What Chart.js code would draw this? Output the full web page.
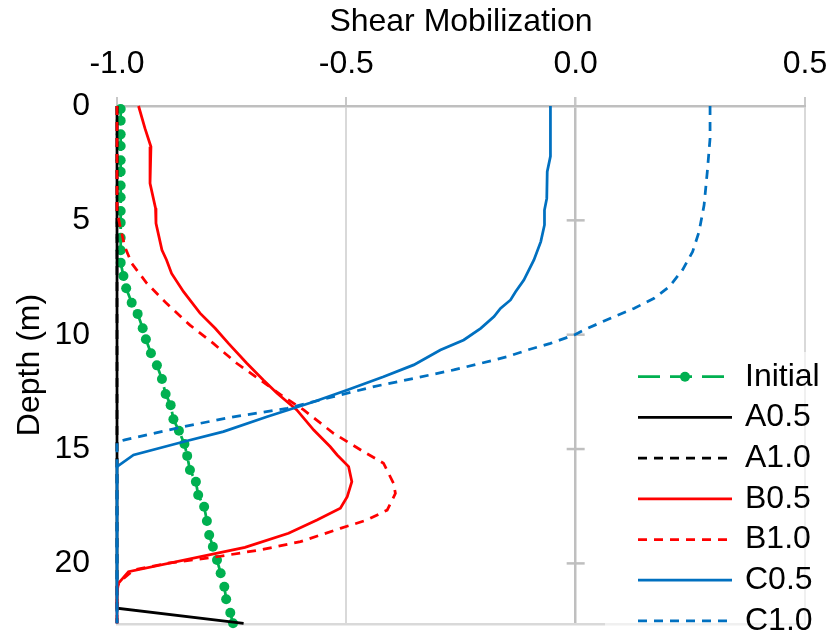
<!DOCTYPE html>
<html>
<head>
<meta charset="utf-8">
<script src="https://cdn.jsdelivr.net/npm/chart.js@4.4.1/dist/chart.umd.min.js"></script>
<style>
  html, body { margin: 0; padding: 0; background: #ffffff; }
  #wrap { width: 832px; height: 632px; }
</style>
</head>
<body>
<div id="wrap"><canvas id="chart" width="832" height="632"></canvas></div>
<script>
// Shear mobilization profiles with depth
const seriesLabels = ['Initial', 'A0.5', 'A1.0', 'B0.5', 'B1.0', 'C0.5', 'C1.0'];
const xTicks = [-1.0, -0.5, 0.0, 0.5];
const depthTicks = [0, 5, 10, 15, 20];

const initialDepth = [0.13, 0.64, 1.24, 1.75, 2.37, 2.87, 3.48, 3.99, 4.59, 5.10, 5.76, 6.31, 6.85,
  7.43, 7.97, 8.60, 9.09, 9.72, 10.20, 10.81, 11.34, 11.94, 12.59, 13.08, 13.70, 14.20, 14.78,
  15.30, 15.92, 16.43, 17.01, 17.52, 18.15, 18.76, 19.27, 19.85, 20.43, 21.02, 21.57, 22.16, 22.62];
const initialValue = [-0.992, -0.992, -0.992, -0.992, -0.992, -0.992, -0.992, -0.992, -0.992, -0.992, -0.992, -0.992, -0.992,
  -0.986, -0.980, -0.968, -0.955, -0.944, -0.937, -0.926, -0.913, -0.902, -0.894, -0.883, -0.877, -0.865, -0.853,
  -0.847, -0.841, -0.828, -0.823, -0.810, -0.804, -0.799, -0.791, -0.782, -0.774, -0.766, -0.762, -0.753, -0.747];

const a05Depth = [0, 21.96, 22.62];
const a05Value = [-1.0, -1.0, -0.724];

const a10Depth = [0, 22.62];
const a10Value = [-1.0, -1.0];

const b05Depth = [0, 0.98, 1.78, 3.38, 4.47, 5.13, 6.30, 6.73, 7.32, 8.12, 9.06, 9.72, 10.38, 11.25, 11.98,
  12.56, 13.29, 14.17, 14.90, 15.26, 15.77, 16.43, 17.08, 17.59, 18.10, 18.68, 19.30, 20.36, 20.87, 21.3, 22.62];
const b05Value = [-0.953, -0.939, -0.926, -0.928, -0.916, -0.915, -0.902, -0.892, -0.881, -0.855, -0.819, -0.786, -0.757, -0.717, -0.681,
  -0.651, -0.608, -0.571, -0.535, -0.520, -0.495, -0.488, -0.498, -0.513, -0.564, -0.626, -0.721, -0.975, -0.997, -1.0, -1.0];

const b10Depth = [0, 4.6, 5.28, 6.15, 6.88, 7.75, 8.63, 9.58, 10.38, 11.25, 11.98, 12.71, 13.29, 14.31, 15.12,
  15.62, 16.5, 16.94, 17.67, 18.10, 18.47, 19.05, 19.41, 19.71, 20.0, 20.29, 20.73, 21.0, 22.62];
const b10Value = [-1.0, -1.0, -0.993, -0.983, -0.968, -0.935, -0.892, -0.841, -0.790, -0.739, -0.688, -0.637, -0.593, -0.528, -0.462,
  -0.419, -0.397, -0.393, -0.411, -0.455, -0.513, -0.600, -0.688, -0.782, -0.892, -0.964, -0.990, -1.0, -1.0];

const c05Depth = [0, 2.2, 2.87, 4.04, 4.55, 5.2, 5.93, 6.73, 7.61, 8.12, 8.48, 8.85, 9.21, 9.72, 10.23,
  10.67, 11.32, 11.84, 12.42, 12.93, 13.59, 14.24, 14.68, 15.26, 15.77, 22.62];
const c05Value = [-0.055, -0.055, -0.062, -0.063, -0.068, -0.068, -0.076, -0.091, -0.113, -0.131, -0.142, -0.164, -0.178, -0.207, -0.244,
  -0.295, -0.353, -0.419, -0.498, -0.571, -0.673, -0.768, -0.855, -0.964, -1.0, -1.0];

const c10Depth = [0, 1.42, 2.87, 4.33, 5.5, 6.37, 7.17, 7.90, 8.41, 8.85, 9.28, 9.72, 10.01, 10.38, 10.67,
  10.96, 11.11, 11.54, 11.91, 12.27, 12.71, 13.22, 13.59, 14.02, 14.6, 14.7, 22.62];
const c10Value = [0.293, 0.293, 0.287, 0.280, 0.269, 0.255, 0.233, 0.204, 0.171, 0.127, 0.076, 0.026, -0.003, -0.055, -0.105,
  -0.149, -0.178, -0.266, -0.353, -0.440, -0.528, -0.629, -0.746, -0.855, -0.983, -1.0, -1.0];

const FONT_FAMILY = '"Liberation Sans", Arial, sans-serif';
const FONT_SIZE = 32;

function pairs(depths, values) {
  return depths.map((d, i) => ({ x: values[i], y: d }));
}

const styles = [
  { color: '#00B050', dash: [16, 10], width: 2.75, radius: 5 },
  { color: '#000000', dash: [], width: 2.75, radius: 0 },
  { color: '#000000', dash: [9, 7], width: 2.75, radius: 0 },
  { color: '#FF0000', dash: [], width: 2.75, radius: 0 },
  { color: '#FF0000', dash: [9, 7], width: 2.75, radius: 0 },
  { color: '#0070C0', dash: [], width: 2.75, radius: 0 },
  { color: '#0070C0', dash: [9, 7], width: 2.75, radius: 0 }
];

const seriesData = [
  pairs(initialDepth, initialValue),
  pairs(a05Depth, a05Value),
  pairs(a10Depth, a10Value),
  pairs(b05Depth, b05Value),
  pairs(b10Depth, b10Value),
  pairs(c05Depth, c05Value),
  pairs(c10Depth, c10Value)
];

const datasets = seriesLabels.map((label, i) => ({
  label: label,
  data: seriesData[i],
  showLine: true,
  borderColor: styles[i].color,
  backgroundColor: styles[i].color,
  borderWidth: styles[i].width,
  borderDash: styles[i].dash,
  pointRadius: styles[i].radius,
  pointHoverRadius: styles[i].radius,
  pointBorderWidth: 0,
  tension: 0,
  clip: 6,
  order: seriesLabels.length - i
}));

// Cross tick marks on the vertical axis line at zero
const zeroAxisTicks = {
  id: 'zeroAxisTicks',
  beforeDatasetsDraw(chart) {
    const { ctx, scales } = chart;
    const x0 = scales.x.getPixelForValue(0);
    ctx.save();
    ctx.strokeStyle = '#bfbfbf';
    ctx.lineWidth = 2.5;
    depthTicks.forEach(d => {
      if (d === 0) return;
      const y = scales.y.getPixelForValue(d);
      ctx.beginPath();
      ctx.moveTo(x0 - 9, y);
      ctx.lineTo(x0 + 9, y);
      ctx.stroke();
    });
    ctx.restore();
  }
};

// Legend box inside the plot, lower right
const insideLegend = {
  id: 'insideLegend',
  afterDraw(chart) {
    const { ctx } = chart;
    const ds = chart.data.datasets;
    ctx.save();
    ctx.fillStyle = 'rgba(255,255,255,0.6)';
    ctx.fillRect(605, 352, 227, 280);
    ctx.font = FONT_SIZE + 'px ' + FONT_FAMILY;
    ctx.textBaseline = 'middle';
    ctx.textAlign = 'left';
    ds.forEach((d, i) => {
      const y = 376.7 + i * 40.7;
      ctx.strokeStyle = d.borderColor;
      ctx.lineWidth = d.borderWidth;
      ctx.setLineDash(i === 0 ? [22, 10] : d.borderDash);
      ctx.beginPath();
      ctx.moveTo(638, y);
      ctx.lineTo(732, y);
      ctx.stroke();
      ctx.setLineDash([]);
      if (d.pointRadius > 0) {
        ctx.fillStyle = d.backgroundColor;
        ctx.beginPath();
        ctx.arc(685, y, d.pointRadius, 0, Math.PI * 2);
        ctx.fill();
      }
      ctx.fillStyle = '#000000';
      ctx.fillText(d.label, 745, y);
    });
    ctx.restore();
  }
};

Chart.defaults.font.family = FONT_FAMILY;
Chart.defaults.font.size = FONT_SIZE;
Chart.defaults.color = '#000000';

new Chart(document.getElementById('chart'), {
  type: 'scatter',
  data: { datasets: datasets },
  options: {
    responsive: false,
    animation: false,
    devicePixelRatio: 1,
    layout: { padding: { left: 0, top: 0, right: 27, bottom: 8 } },
    plugins: {
      legend: { display: false },
      tooltip: { enabled: false }
    },
    scales: {
      x: {
        type: 'linear',
        position: 'top',
        min: -1.0,
        max: 0.5,
        afterBuildTicks: s => { s.ticks = xTicks.map(v => ({ value: v })); },
        afterFit: s => { s.height = 106; },
        ticks: {
          callback: v => Number(v).toFixed(1),
          padding: 4,
          font: { size: FONT_SIZE, lineHeight: 1.8 },
          maxRotation: 0,
          autoSkip: false
        },
        grid: {
          color: c => (c.tick && c.tick.value === 0) ? '#bfbfbf' : '#d9d9d9',
          lineWidth: c => (c.tick && c.tick.value === 0) ? 2.5 : 2,
          tickColor: '#c8c8c8',
          tickLength: 9,
          drawTicks: true
        },
        border: { display: true, color: '#bfbfbf', width: 2.5 },
        title: {
          display: true,
          text: 'Shear Mobilization',
          padding: { top: 3, bottom: 0 }
        }
      },
      x2: {
        type: 'linear',
        axis: 'x',
        position: 'bottom',
        min: -1.0,
        max: 0.5,
        afterFit: s => { s.height = 0; },
        ticks: { display: false, padding: 0 },
        grid: { display: false, drawTicks: false },
        border: { display: true, color: '#d9d9d9', width: 2.5 }
      },
      y: {
        type: 'linear',
        reverse: true,
        min: 0,
        max: 22.65,
        afterBuildTicks: s => { s.ticks = depthTicks.map(v => ({ value: v })); },
        afterFit: s => { s.width = 117; },
        ticks: { padding: 0, autoSkip: false, font: { size: FONT_SIZE, lineHeight: 0.45 } },
        grid: {
          display: true,
          drawOnChartArea: false,
          drawTicks: true,
          tickLength: 27,
          color: 'rgba(0,0,0,0)',
          tickColor: 'rgba(0,0,0,0)'
        },
        border: { display: false },
        title: {
          display: true,
          text: 'Depth (m)',
          padding: { top: 11, bottom: 0 }
        }
      }
    }
  },
  plugins: [zeroAxisTicks, insideLegend]
});
</script>
</body>
</html>
